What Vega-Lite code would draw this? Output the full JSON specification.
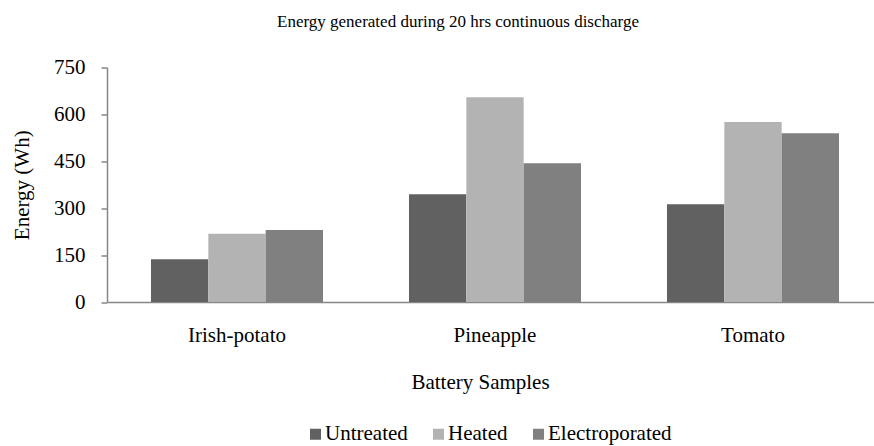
{
  "$schema": "https://vega.github.io/schema/vega-lite/v6.json",
  "autosize": "none",
  "width": 776,
  "height": 234.5,
  "padding": {"left": 107, "top": 67.5, "right": 1, "bottom": 144},
  "background": "white",
  "title": {
    "text": "Energy generated during 20 hrs continuous discharge",
    "font": "Liberation Serif",
    "fontSize": 17,
    "fontWeight": "normal",
    "color": "#000000",
    "anchor": "middle",
    "frame": "group",
    "dx": -37,
    "baseline": "alphabetic",
    "offset": 13
  },
  "data": {
    "values": [
      {"sample": "Irish-potato", "treatment": "Untreated", "energy": 137},
      {"sample": "Irish-potato", "treatment": "Heated", "energy": 218},
      {"sample": "Irish-potato", "treatment": "Electroporated", "energy": 230},
      {"sample": "Pineapple", "treatment": "Untreated", "energy": 345},
      {"sample": "Pineapple", "treatment": "Heated", "energy": 655},
      {"sample": "Pineapple", "treatment": "Electroporated", "energy": 444},
      {"sample": "Tomato", "treatment": "Untreated", "energy": 313},
      {"sample": "Tomato", "treatment": "Heated", "energy": 576},
      {"sample": "Tomato", "treatment": "Electroporated", "energy": 540}
    ]
  },
  "mark": {"type": "bar"},
  "encoding": {
    "x": {
      "field": "sample",
      "type": "nominal",
      "sort": ["Irish-potato", "Pineapple", "Tomato"],
      "scale": {"paddingInner": 0.3333, "paddingOuter": 0.1705},
      "axis": {
        "title": "Battery Samples",
        "labelAngle": 0,
        "ticks": false,
        "labelPadding": 22,
        "labelFont": "Liberation Serif",
        "labelFontSize": 21,
        "labelColor": "#000000",
        "titleFont": "Liberation Serif",
        "titleFontSize": 21,
        "titleFontWeight": "normal",
        "titleColor": "#000000",
        "titleBaseline": "top",
        "titleY": 69,
        "titleX": 373,
        "domainColor": "#868686",
        "domainWidth": 1.5,
        "grid": false
      }
    },
    "xOffset": {
      "field": "treatment",
      "type": "nominal",
      "sort": ["Untreated", "Heated", "Electroporated"],
      "scale": {"paddingInner": 0, "paddingOuter": 0}
    },
    "y": {
      "field": "energy",
      "type": "quantitative",
      "scale": {"domain": [0, 750], "nice": false},
      "axis": {
        "title": "Energy (Wh)",
        "values": [0, 150, 300, 450, 600, 750],
        "grid": false,
        "tickSize": 6,
        "tickColor": "#868686",
        "tickWidth": 1.5,
        "labelPadding": 16,
        "labelFont": "Liberation Serif",
        "labelFontSize": 21,
        "labelColor": "#000000",
        "titleFont": "Liberation Serif",
        "titleFontSize": 21,
        "titleFontWeight": "normal",
        "titleColor": "#000000",
        "titleX": -85,
        "titleBaseline": "middle",
        "domainColor": "#868686",
        "domainWidth": 1.5
      }
    },
    "color": {
      "field": "treatment",
      "type": "nominal",
      "sort": ["Untreated", "Heated", "Electroporated"],
      "scale": {
        "domain": ["Untreated", "Heated", "Electroporated"],
        "range": ["#616161", "#b3b3b3", "#808080"]
      },
      "legend": {
        "title": null,
        "orient": "none",
        "direction": "horizontal",
        "legendX": 198,
        "legendY": 356,
        "symbolType": "square",
        "symbolSize": 121,
        "symbolStrokeWidth": 0,
        "symbolOpacity": 1,
        "labelFont": "Liberation Serif",
        "labelFontSize": 21,
        "labelColor": "#000000",
        "labelOffset": -1,
        "columnPadding": 20
      }
    }
  },
  "config": {"view": {"stroke": null}}
}
